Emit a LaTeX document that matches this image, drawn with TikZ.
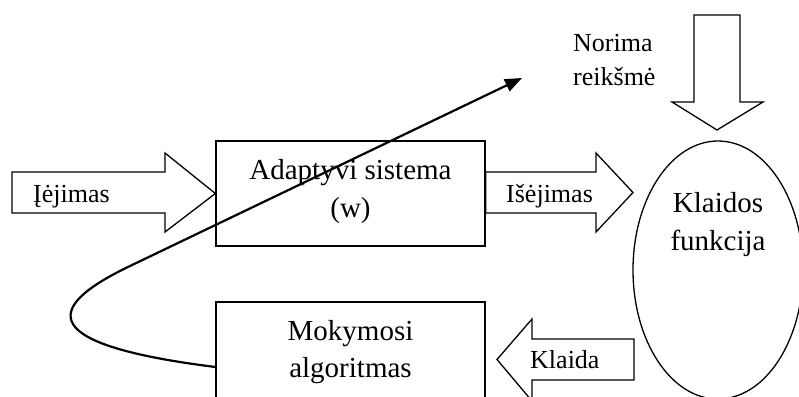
\documentclass[tikz,border=0pt]{standalone}
\usepackage{fontspec}
\setmainfont{Liberation Serif}
\usetikzlibrary{shapes.geometric,arrows.meta}
\begin{document}
\begin{tikzpicture}[x=1pt,y=-1pt,
  outline/.style={draw=black,line width=1.3pt,line join=miter},
  block/.style={outline,rectangle,inner sep=0pt},
  blockarrow/.style={outline,fill=white},
  boxtext/.style={inner sep=0pt,anchor=base,font=\fontsize{29}{38}\selectfont},
  labeltext/.style={inner sep=0pt,anchor=base west,font=\fontsize{26}{33}\selectfont},
  flow/.style={line width=2.2pt,-{Triangle[length=17pt,width=13pt]}}]
\clip (0,0) rectangle (799,396);

% main blocks
\node[block,minimum width=269pt,minimum height=105pt] (adapt) at (350.5,193.5) {};
\node[block,minimum width=269pt,minimum height=130pt] (mok) at (350.5,367) {};
\node[outline,ellipse,inner sep=0pt,minimum width=170pt,minimum height=258pt] (klf) at (718,270) {};

% block arrows
\draw[blockarrow] (12,172) -- (165,172) -- (165,153) -- (adapt.west)
  -- (165,232) -- (165,213) -- (12,213) -- cycle;
\draw[blockarrow] (adapt.east |- 0,172) -- (596,172) -- (596,153) -- (633,192.5)
  -- (596,232) -- (596,213) -- (adapt.east |- 0,213) -- cycle;
\draw[blockarrow] (694,15) -- (740,15) -- (740,102) -- (763,102) -- (717,130)
  -- (672,102) -- (694,102) -- cycle;
\draw[blockarrow] (634,339) -- (532,339) -- (532,319) -- (497,359.5)
  -- (532,401) -- (532,380) -- (634,380) -- cycle;

% texts
\node[boxtext] (adapt1) at (350.5,179) {Adaptyvi sistema};
\node[boxtext] (adapt2) at (350.5,217) {(w)};
\node[boxtext] (mok1) at (350.5,340) {Mokymosi};
\node[boxtext] (mok2) at (350.5,377) {algoritmas};
\node[boxtext] (klf1) at (718,212) {Klaidos};
\node[boxtext] (klf2) at (718,250) {funkcija};

\node[labeltext] (in) at (33,202) {Įėjimas};
\node[labeltext] (out) at (506,202) {Išėjimas};
\node[labeltext] (err) at (530,368) {Klaida};
\node[labeltext] (want1) at (573,52) {Norima};
\node[labeltext] (want2) at (573,85) {reikšmė};

% weight update path
\coordinate (goal) at (522,78);
\draw[flow] (mok.west) .. controls (40,345) and (40,309) .. (130,266) -- (goal);
\end{tikzpicture}
\end{document}
